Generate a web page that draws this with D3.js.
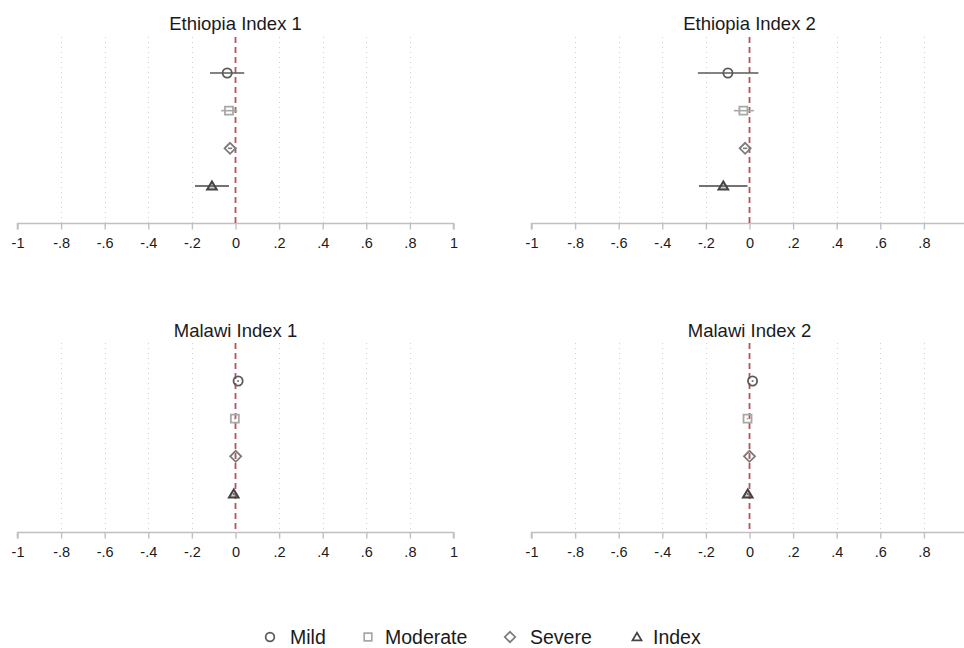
<!DOCTYPE html>
<html>
<head>
<meta charset="utf-8">
<script src="https://cdn.jsdelivr.net/npm/d3@7"></script>
<style>
  body { margin: 0; background: #fff; }
  svg { display: block; font-family: "Liberation Sans", Arial, sans-serif; }
</style>
</head>
<body>
<svg id="chart" width="964" height="648"></svg>
<script>
// Panel titles and tick labels
const panelTitles = ["Ethiopia Index 1", "Ethiopia Index 2", "Malawi Index 1", "Malawi Index 2"];
const tickValues = [-1, -0.8, -0.6, -0.4, -0.2, 0, 0.2, 0.4, 0.6, 0.8, 1];
const tickLabels = ["-1", "-.8", "-.6", "-.4", "-.2", "0", ".2", ".4", ".6", ".8", "1"];
const seriesNames = ["Mild", "Moderate", "Severe", "Index"];

// Point estimates per panel, in series order (Mild, Moderate, Severe, Index)
const estimates = [
  [-0.038, -0.030, -0.025, -0.108],
  [-0.099, -0.028, -0.020, -0.120],
  [0.012, -0.003, 0.001, -0.008],
  [0.014, -0.009, 0.000, -0.008]
];
// Confidence interval bounds per panel
const lowerCI = [
  [-0.117, -0.066, -0.035, -0.186],
  [-0.237, -0.072, -0.030, -0.232],
  [0.008, -0.007, -0.003, -0.012],
  [0.010, -0.013, -0.004, -0.012]
];
const upperCI = [
  [0.040, 0.008, -0.015, -0.030],
  [0.041, 0.020, -0.010, -0.009],
  [0.016, 0.001, 0.005, -0.004],
  [0.018, -0.005, 0.004, -0.004]
];

const svg = d3.select("#chart");
const W = 964;

// Series styles
const styles = {
  Mild:     { shape: "circle",   stroke: "#5a5a5a", line: "#5a5a5a" },
  Moderate: { shape: "square",   stroke: "#a8a8a8", line: "#a8a8a8" },
  Severe:   { shape: "diamond",  stroke: "#7a7a7a", line: "#7a7a7a" },
  Index:    { shape: "triangle", stroke: "#444444", line: "#444444" }
};

function markerPath(shape) {
  switch (shape) {
    case "circle":   return d3.symbol(d3.symbolCircle, 66)();
    case "square":   return d3.symbol(d3.symbolSquare, 64)();
    case "diamond":  return "M0,-5.5L5.5,0L0,5.5L-5.5,0Z";
    case "triangle": return "M0,-4.5L4.8,3.6L-4.8,3.6Z";
  }
}

// Panel geometry: plot left/right in x, top/bottom (axis) in y
const panels = [
  { x0: 17.5, x1: 453.5, top: 37,  bottom: 223.5, titleY: 30, rowTop: 73 },
  { x0: 531.5, x1: 967.5, top: 37, bottom: 223.5, titleY: 30, rowTop: 73 },
  { x0: 17.5, x1: 453.5, top: 343, bottom: 532.5, titleY: 337, rowTop: 381 },
  { x0: 531.5, x1: 967.5, top: 343, bottom: 532.5, titleY: 337, rowTop: 381 }
];

panels.forEach((p, i) => {
  const g = svg.append("g");
  const x = d3.scaleLinear().domain([-1, 1]).range([p.x0, p.x1]);
  const y = d3.scalePoint().domain(seriesNames).range([p.rowTop, p.rowTop + 113]);

  // Ticks that fall inside the visible page
  const shown = tickValues.map((v, k) => ({ v, label: tickLabels[k] }))
    .filter(t => x(t.v) < W - 2);

  // Dotted vertical gridlines
  g.selectAll("line.grid")
    .data(tickValues.filter(v => Math.abs(v) < 1 && v !== 0))
    .join("line")
    .attr("x1", d => Math.round(x(d)) + 0.5).attr("x2", d => Math.round(x(d)) + 0.5)
    .attr("y1", p.top).attr("y2", p.bottom)
    .attr("stroke", "#d0d0d0").attr("stroke-width", 1)
    .attr("stroke-dasharray", "1,4");

  // Axis
  const axis = d3.axisBottom(x).tickValues(shown.map(t => t.v))
    .tickFormat((d, k) => shown[k].label).tickSize(6).tickPadding(8);
  const ax = g.append("g").attr("transform", `translate(0,${p.bottom})`).call(axis);
  ax.select(".domain").attr("stroke", "#c0c0c0").attr("stroke-width", 1.6)
    .attr("d", `M${p.x0},6V0H${Math.min(p.x1, W)}${p.x1 <= W ? "V6" : ""}`);
  ax.selectAll(".tick line").attr("stroke", "#c0c0c0").attr("stroke-width", 1.4);
  ax.selectAll(".tick text").attr("fill", "#1a1a1a").attr("font-size", "14.5px");

  // Reference line at zero
  g.append("line")
    .attr("x1", x(0)).attr("x2", x(0))
    .attr("y1", p.top).attr("y2", p.bottom)
    .attr("stroke", "#b5545e").attr("stroke-width", 1.8)
    .attr("stroke-dasharray", "6,4");

  // Title
  g.append("text")
    .attr("x", x(0)).attr("y", p.titleY)
    .attr("text-anchor", "middle").attr("font-size", "18.5px").attr("fill", "#1a1a1a")
    .text(panelTitles[i]);

  // Confidence intervals and point estimates
  seriesNames.forEach((s, k) => {
    const st = styles[s];
    g.append("line")
      .attr("x1", x(lowerCI[i][k])).attr("x2", x(upperCI[i][k]))
      .attr("y1", y(s)).attr("y2", y(s))
      .attr("stroke", st.line).attr("stroke-width", 1.6);
    g.append("path")
      .attr("d", markerPath(st.shape))
      .attr("transform", `translate(${x(estimates[i][k])},${y(s)})`)
      .attr("fill", s === "Index" ? "rgba(120,120,120,0.35)" : "rgba(255,255,255,0)")
      .attr("stroke", st.stroke).attr("stroke-width", s === "Index" ? 2 : 1.8);
  });
});

// Legend
const legendX = [270, 368, 510, 637];
const legendText = [290, 385, 530, 653];
const legend = svg.append("g");
seriesNames.forEach((s, k) => {
  const st = styles[s];
  legend.append("path")
    .attr("d", markerPath(st.shape))
    .attr("transform", `translate(${legendX[k]},637) scale(0.95)`)
    .attr("fill", "none")
    .attr("stroke", st.stroke).attr("stroke-width", 1.8);
  legend.append("text")
    .attr("x", legendText[k]).attr("y", 644)
    .attr("font-size", "19.5px").attr("fill", "#1a1a1a")
    .text(s);
});
</script>
</body>
</html>
